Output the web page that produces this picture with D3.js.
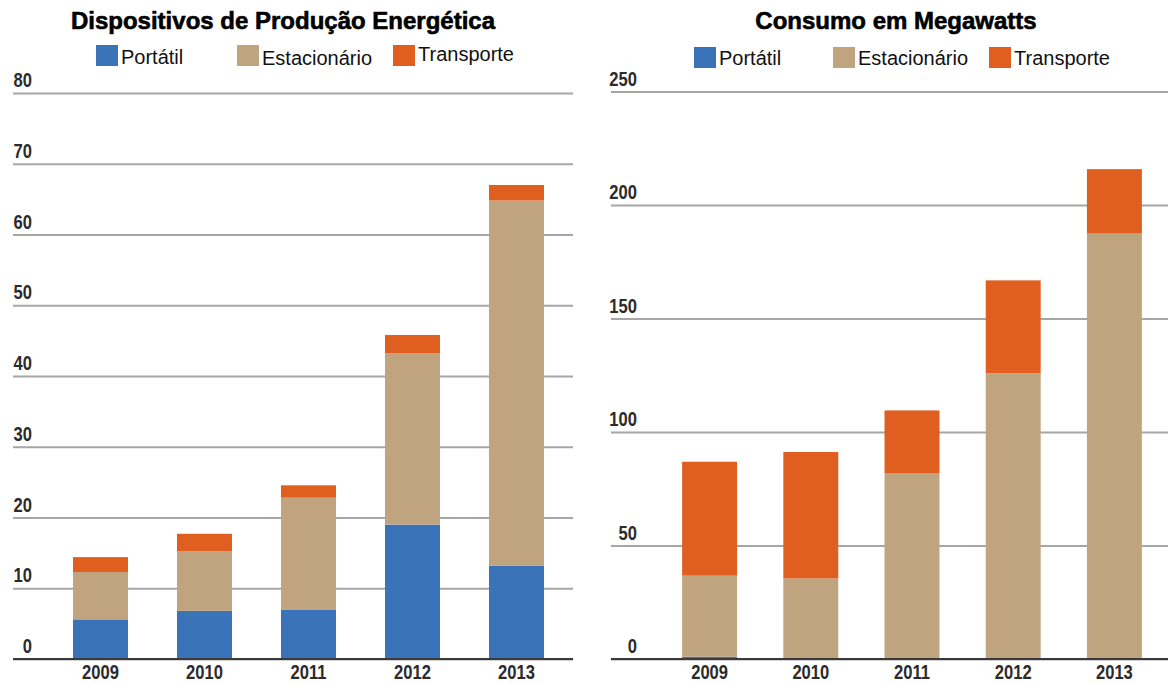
<!DOCTYPE html>
<html>
<head>
<meta charset="utf-8">
<script src="https://cdn.jsdelivr.net/npm/d3@7/dist/d3.min.js"></script>
<style>
  html, body { margin: 0; padding: 0; background: #fff; }
  svg { display: block; }
  .title { font-family: "Liberation Sans", Arial, sans-serif; font-weight: bold; font-size: 24px; fill: #000; stroke: #000; stroke-width: 0.6px; }
  .legend text { font-family: "Liberation Sans", Arial, sans-serif; font-size: 20px; fill: #111; }
  .num { font-family: "Liberation Sans", Arial, sans-serif; font-weight: bold; font-size: 19.5px; fill: #2b2b2b; }
</style>
</head>
<body>
<svg id="chart" width="1168" height="684"></svg>
<script>
// Years on the horizontal axis and the three stacked series
const years = ["2009", "2010", "2011", "2012", "2013"];
const seriesNames = ["Portátil", "Estacionário", "Transporte"];
const seriesColors = ["#3a73b8", "#c0a480", "#e05e1f"];

// Dispositivos de Produção Energética (thousands of units)
const devicesTitle = "Dispositivos de Produção Energética";
const devicesPortatil = [5.6, 6.8, 7.0, 19.0, 13.2];
const devicesEstacionario = [6.7, 8.4, 15.8, 24.2, 51.6];
const devicesTransporte = [2.1, 2.5, 1.75, 2.6, 2.2];
const devicesTicks = [0, 10, 20, 30, 40, 50, 60, 70, 80];

// Consumo em Megawatts
const powerTitle = "Consumo em Megawatts";
const powerPortatil = [1.0, 0, 0, 0, 0];
const powerEstacionario = [35.7, 35.5, 81.7, 125.9, 187.4];
const powerTransporte = [50.2, 55.7, 27.8, 40.9, 28.4];
const powerTicks = [0, 50, 100, 150, 200, 250];

// narrow look for the numeric labels
const NUM_SQUEEZE = 0.85;

const svg = d3.select("#chart");

function drawPanel(opts) {
  const rows = years.map((yr, i) => ({
    year: yr,
    "Portátil": opts.values[0][i],
    "Estacionário": opts.values[1][i],
    "Transporte": opts.values[2][i]
  }));

  const y = d3.scaleLinear()
    .domain([0, d3.max(opts.ticks)])
    .range([opts.baseY, opts.topY]);

  const x = d3.scaleBand()
    .domain(years)
    .range([opts.bandStart, opts.bandEnd])
    .paddingInner(opts.pad)
    .paddingOuter(opts.pad / 2);

  const g = svg.append("g");

  // Title
  g.append("text")
    .attr("class", "title")
    .attr("x", opts.titleX)
    .attr("y", 29)
    .attr("text-anchor", "middle")
    .text(opts.title);

  // Legend
  const leg = g.append("g").attr("class", "legend");
  seriesNames.forEach((name, i) => {
    const item = leg.append("g").attr("transform", `translate(${opts.legendX[i]},0)`);
    item.append("rect")
      .attr("x", 0).attr("y", opts.swatchY[i])
      .attr("width", 22).attr("height", 21)
      .attr("fill", seriesColors[i]);
    item.append("text")
      .attr("x", 25).attr("y", opts.legendBase[i])
      .text(name);
  });

  // Horizontal grid with value labels above each line
  const yAxis = d3.axisLeft(y)
    .tickValues(opts.ticks)
    .tickSize(-(opts.gridEnd - opts.gridStart))
    .tickFormat(d3.format("d"));
  const ya = g.append("g")
    .attr("transform", `translate(${opts.gridStart},0)`)
    .call(yAxis);
  ya.select(".domain").remove();
  ya.selectAll(".tick line")
    .attr("stroke", "#a6a6a6")
    .attr("stroke-width", 2);
  ya.selectAll(".tick text")
    .attr("class", "num")
    .attr("x", (opts.labelRight - opts.gridStart) / NUM_SQUEEZE)
    .attr("dy", null)
    .attr("y", -6.5)
    .attr("transform", `scale(${NUM_SQUEEZE},1)`)
    .attr("text-anchor", "end");

  // Stacked bars
  const stack = d3.stack().keys(seriesNames);
  const layers = stack(rows);
  g.append("g")
    .selectAll("g")
    .data(layers)
    .join("g")
    .attr("fill", (d, i) => seriesColors[i])
    .selectAll("rect")
    .data(d => d)
    .join("rect")
    .attr("x", d => x(d.data.year))
    .attr("width", x.bandwidth())
    .attr("y", d => y(d[1]))
    .attr("height", d => y(d[0]) - y(d[1]));

  // Baseline drawn over the bar feet
  g.append("line")
    .attr("x1", opts.gridStart).attr("x2", opts.gridEnd)
    .attr("y1", y(0)).attr("y2", y(0))
    .attr("stroke", "#3a3a3a").attr("stroke-width", 2);

  // Year labels
  const xa = g.append("g")
    .attr("transform", `translate(0,${opts.baseY})`)
    .call(d3.axisBottom(x).tickSize(0));
  xa.select(".domain").remove();
  xa.selectAll(".tick text")
    .attr("class", "num")
    .attr("dy", null)
    .attr("y", 20)
    .attr("transform", `scale(${NUM_SQUEEZE},1)`);
}

drawPanel({
  title: devicesTitle,
  titleX: 283,
  values: [devicesPortatil, devicesEstacionario, devicesTransporte],
  ticks: devicesTicks,
  baseY: 659, topY: 93,
  bandStart: 48.5, bandEnd: 568.5, pad: 0.471,
  gridStart: 13, gridEnd: 573, labelRight: 32,
  legendX: [96, 237, 393],
  swatchY: [45, 45, 45],
  legendBase: [64, 65, 61]
});

drawPanel({
  title: powerTitle,
  titleX: 896,
  values: [powerPortatil, powerEstacionario, powerTransporte],
  ticks: powerTicks,
  baseY: 659, topY: 91.5,
  bandStart: 659, bandEnd: 1165, pad: 0.457,
  gridStart: 611, gridEnd: 1168, labelRight: 637,
  legendX: [694, 833, 989],
  swatchY: [47, 47, 47],
  legendBase: [65, 65, 65]
});
</script>
</body>
</html>
